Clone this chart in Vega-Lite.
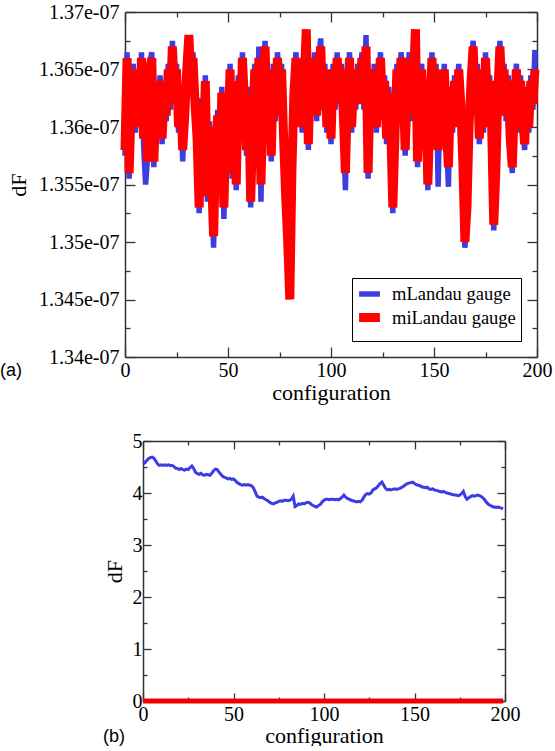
{
"$schema": "https://vega.github.io/schema/vega-lite/v6.json",
"background": "white",
"padding": {"left": 0, "top": 2, "right": 0, "bottom": 0},
"config": {
  "font": "Liberation Serif",
  "view": {"stroke": null},
  "axis": {"labelFont": "Liberation Serif", "labelFontSize": 20, "labelColor": "black", "titleFont": "Liberation Serif", "titleFontSize": 22, "titleFontWeight": "normal", "titleColor": "black", "domainColor": "#333333", "domainWidth": 1.5, "tickColor": "#333333", "tickWidth": 1.3, "grid": false, "labelOverlap": false, "labelFlush": false},
  "legend": {"labelFont": "Liberation Serif", "labelFontSize": 18.5, "labelColor": "black"},
  "title": {"font": "Liberation Sans", "fontSize": 18, "fontWeight": "normal", "color": "black"}
},
"resolve": {"scale": {"color": "independent", "strokeWidth": "independent"}},
"datasets": {"d": [
{"c":0,"m":1.3575e-7,"mi":1.358e-7,"b":4.56},
{"c":1,"m":1.3665e-7,"mi":1.366e-7,"b":4.58},
{"c":2,"m":1.3555e-7,"mi":1.356e-7,"b":4.62},
{"c":3,"m":1.3625e-7,"mi":1.362e-7,"b":4.66},
{"c":4,"m":1.3655e-7,"mi":1.365e-7,"b":4.68},
{"c":5,"m":1.3595e-7,"mi":1.360e-7,"b":4.69},
{"c":6,"m":1.3645e-7,"mi":1.364e-7,"b":4.67},
{"c":7,"m":1.3605e-7,"mi":1.361e-7,"b":4.62},
{"c":8,"m":1.3665e-7,"mi":1.366e-7,"b":4.56},
{"c":9,"m":1.3585e-7,"mi":1.359e-7,"b":4.53},
{"c":10,"m":1.355e-7,"mi":1.363e-7,"b":4.54},
{"c":11,"m":1.3575e-7,"mi":1.357e-7,"b":4.53},
{"c":12,"m":1.3655e-7,"mi":1.365e-7,"b":4.54},
{"c":13,"m":1.3665e-7,"mi":1.366e-7,"b":4.53},
{"c":14,"m":1.3565e-7,"mi":1.357e-7,"b":4.54},
{"c":15,"m":1.3625e-7,"mi":1.362e-7,"b":4.53},
{"c":16,"m":1.3595e-7,"mi":1.360e-7,"b":4.53},
{"c":17,"m":1.3645e-7,"mi":1.364e-7,"b":4.51},
{"c":18,"m":1.3585e-7,"mi":1.359e-7,"b":4.48},
{"c":19,"m":1.3635e-7,"mi":1.363e-7,"b":4.47},
{"c":20,"m":1.3605e-7,"mi":1.361e-7,"b":4.45},
{"c":21,"m":1.3655e-7,"mi":1.365e-7,"b":4.47},
{"c":22,"m":1.3615e-7,"mi":1.362e-7,"b":4.45},
{"c":23,"m":1.3675e-7,"mi":1.367e-7,"b":4.44},
{"c":24,"m":1.3625e-7,"mi":1.363e-7,"b":4.46},
{"c":25,"m":1.3655e-7,"mi":1.365e-7,"b":4.45},
{"c":26,"m":1.3595e-7,"mi":1.360e-7,"b":4.49},
{"c":27,"m":1.3635e-7,"mi":1.363e-7,"b":4.52},
{"c":28,"m":1.357e-7,"mi":1.358e-7,"b":4.47},
{"c":29,"m":1.3615e-7,"mi":1.361e-7,"b":4.40},
{"c":30,"m":1.3655e-7,"mi":1.365e-7,"b":4.37},
{"c":31,"m":1.3675e-7,"mi":1.368e-7,"b":4.36},
{"c":32,"m":1.3645e-7,"mi":1.364e-7,"b":4.38},
{"c":33,"m":1.3665e-7,"mi":1.366e-7,"b":4.35},
{"c":34,"m":1.3615e-7,"mi":1.362e-7,"b":4.34},
{"c":35,"m":1.3585e-7,"mi":1.359e-7,"b":4.36},
{"c":36,"m":1.3525e-7,"mi":1.353e-7,"b":4.35},
{"c":37,"m":1.3625e-7,"mi":1.362e-7,"b":4.34},
{"c":38,"m":1.3565e-7,"mi":1.357e-7,"b":4.38},
{"c":39,"m":1.3645e-7,"mi":1.364e-7,"b":4.43},
{"c":40,"m":1.3535e-7,"mi":1.354e-7,"b":4.46},
{"c":41,"m":1.3605e-7,"mi":1.360e-7,"b":4.45},
{"c":42,"m":1.3555e-7,"mi":1.356e-7,"b":4.40},
{"c":43,"m":1.3495e-7,"mi":1.3505e-7,"b":4.36},
{"c":44,"m":1.3575e-7,"mi":1.358e-7,"b":4.32},
{"c":45,"m":1.3615e-7,"mi":1.361e-7,"b":4.30},
{"c":46,"m":1.3545e-7,"mi":1.355e-7,"b":4.29},
{"c":47,"m":1.3635e-7,"mi":1.363e-7,"b":4.27},
{"c":48,"m":1.352e-7,"mi":1.353e-7,"b":4.28},
{"c":49,"m":1.3605e-7,"mi":1.360e-7,"b":4.26},
{"c":50,"m":1.3585e-7,"mi":1.359e-7,"b":4.27},
{"c":51,"m":1.3655e-7,"mi":1.365e-7,"b":4.24},
{"c":52,"m":1.3555e-7,"mi":1.356e-7,"b":4.20},
{"c":53,"m":1.3625e-7,"mi":1.362e-7,"b":4.18},
{"c":54,"m":1.3545e-7,"mi":1.355e-7,"b":4.16},
{"c":55,"m":1.3645e-7,"mi":1.364e-7,"b":4.15},
{"c":56,"m":1.3595e-7,"mi":1.360e-7,"b":4.16},
{"c":57,"m":1.3665e-7,"mi":1.366e-7,"b":4.15},
{"c":58,"m":1.3625e-7,"mi":1.362e-7,"b":4.16},
{"c":59,"m":1.3575e-7,"mi":1.358e-7,"b":4.15},
{"c":60,"m":1.3635e-7,"mi":1.363e-7,"b":4.14},
{"c":61,"m":1.353e-7,"mi":1.3535e-7,"b":4.10},
{"c":62,"m":1.3605e-7,"mi":1.360e-7,"b":4.02},
{"c":63,"m":1.3655e-7,"mi":1.365e-7,"b":3.94},
{"c":64,"m":1.3605e-7,"mi":1.361e-7,"b":3.92},
{"c":65,"m":1.367e-7,"mi":1.366e-7,"b":3.91},
{"c":66,"m":1.3535e-7,"mi":1.355e-7,"b":3.92},
{"c":67,"m":1.3635e-7,"mi":1.363e-7,"b":3.89},
{"c":68,"m":1.3675e-7,"mi":1.367e-7,"b":3.87},
{"c":69,"m":1.3595e-7,"mi":1.360e-7,"b":3.85},
{"c":70,"m":1.3645e-7,"mi":1.364e-7,"b":3.82},
{"c":71,"m":1.357e-7,"mi":1.3575e-7,"b":3.80},
{"c":72,"m":1.3655e-7,"mi":1.365e-7,"b":3.79},
{"c":73,"m":1.3605e-7,"mi":1.361e-7,"b":3.81},
{"c":74,"m":1.3665e-7,"mi":1.366e-7,"b":3.82},
{"c":75,"m":1.3635e-7,"mi":1.363e-7,"b":3.84},
{"c":76,"m":1.3655e-7,"mi":1.365e-7,"b":3.85},
{"c":77,"m":1.3585e-7,"mi":1.359e-7,"b":3.84},
{"c":78,"m":1.3535e-7,"mi":1.354e-7,"b":3.86},
{"c":79,"m":1.3495e-7,"mi":1.350e-7,"b":3.86},
{"c":80,"m":1.3455e-7,"mi":1.345e-7,"b":3.85},
{"c":81,"m":1.3555e-7,"mi":1.356e-7,"b":3.86},
{"c":82,"m":1.3635e-7,"mi":1.363e-7,"b":3.88},
{"c":83,"m":1.3665e-7,"mi":1.366e-7,"b":3.94},
{"c":84,"m":1.3615e-7,"mi":1.362e-7,"b":3.74},
{"c":85,"m":1.3655e-7,"mi":1.365e-7,"b":3.76},
{"c":86,"m":1.3595e-7,"mi":1.360e-7,"b":3.79},
{"c":87,"m":1.3645e-7,"mi":1.364e-7,"b":3.78},
{"c":88,"m":1.368e-7,"mi":1.3685e-7,"b":3.80},
{"c":89,"m":1.358e-7,"mi":1.3585e-7,"b":3.79},
{"c":90,"m":1.3655e-7,"mi":1.365e-7,"b":3.81},
{"c":91,"m":1.3625e-7,"mi":1.363e-7,"b":3.82},
{"c":92,"m":1.3665e-7,"mi":1.366e-7,"b":3.81},
{"c":93,"m":1.3605e-7,"mi":1.361e-7,"b":3.78},
{"c":94,"m":1.3655e-7,"mi":1.365e-7,"b":3.76},
{"c":95,"m":1.3677e-7,"mi":1.367e-7,"b":3.74},
{"c":96,"m":1.3615e-7,"mi":1.362e-7,"b":3.73},
{"c":97,"m":1.3655e-7,"mi":1.365e-7,"b":3.76},
{"c":98,"m":1.3595e-7,"mi":1.360e-7,"b":3.78},
{"c":99,"m":1.3645e-7,"mi":1.364e-7,"b":3.83},
{"c":100,"m":1.3585e-7,"mi":1.359e-7,"b":3.86},
{"c":101,"m":1.3655e-7,"mi":1.365e-7,"b":3.88},
{"c":102,"m":1.3615e-7,"mi":1.362e-7,"b":3.88},
{"c":103,"m":1.3665e-7,"mi":1.366e-7,"b":3.87},
{"c":104,"m":1.3625e-7,"mi":1.363e-7,"b":3.88},
{"c":105,"m":1.3655e-7,"mi":1.365e-7,"b":3.88},
{"c":106,"m":1.3605e-7,"mi":1.361e-7,"b":3.87},
{"c":107,"m":1.3545e-7,"mi":1.356e-7,"b":3.88},
{"c":108,"m":1.3635e-7,"mi":1.363e-7,"b":3.87},
{"c":109,"m":1.3665e-7,"mi":1.366e-7,"b":3.89},
{"c":110,"m":1.3595e-7,"mi":1.360e-7,"b":3.92},
{"c":111,"m":1.3645e-7,"mi":1.364e-7,"b":3.96},
{"c":112,"m":1.3615e-7,"mi":1.362e-7,"b":3.92},
{"c":113,"m":1.3655e-7,"mi":1.365e-7,"b":3.89},
{"c":114,"m":1.3625e-7,"mi":1.363e-7,"b":3.88},
{"c":115,"m":1.3665e-7,"mi":1.366e-7,"b":3.86},
{"c":116,"m":1.3615e-7,"mi":1.362e-7,"b":3.85},
{"c":117,"m":1.368e-7,"mi":1.367e-7,"b":3.84},
{"c":118,"m":1.3555e-7,"mi":1.356e-7,"b":3.83},
{"c":119,"m":1.3645e-7,"mi":1.364e-7,"b":3.84},
{"c":120,"m":1.3605e-7,"mi":1.361e-7,"b":3.83},
{"c":121,"m":1.3655e-7,"mi":1.365e-7,"b":3.86},
{"c":122,"m":1.3595e-7,"mi":1.360e-7,"b":3.92},
{"c":123,"m":1.3635e-7,"mi":1.363e-7,"b":3.97},
{"c":124,"m":1.3665e-7,"mi":1.366e-7,"b":3.99},
{"c":125,"m":1.3615e-7,"mi":1.362e-7,"b":3.98},
{"c":126,"m":1.3645e-7,"mi":1.364e-7,"b":4.00},
{"c":127,"m":1.3585e-7,"mi":1.359e-7,"b":4.06},
{"c":128,"m":1.3635e-7,"mi":1.363e-7,"b":4.08},
{"c":129,"m":1.3595e-7,"mi":1.360e-7,"b":4.10},
{"c":130,"m":1.3525e-7,"mi":1.353e-7,"b":4.14},
{"c":131,"m":1.3585e-7,"mi":1.359e-7,"b":4.18},
{"c":132,"m":1.3655e-7,"mi":1.365e-7,"b":4.21},
{"c":133,"m":1.3615e-7,"mi":1.362e-7,"b":4.15},
{"c":134,"m":1.3665e-7,"mi":1.366e-7,"b":4.09},
{"c":135,"m":1.3645e-7,"mi":1.364e-7,"b":4.06},
{"c":136,"m":1.3575e-7,"mi":1.358e-7,"b":4.07},
{"c":137,"m":1.3635e-7,"mi":1.363e-7,"b":4.06},
{"c":138,"m":1.3665e-7,"mi":1.366e-7,"b":4.07},
{"c":139,"m":1.3605e-7,"mi":1.361e-7,"b":4.08},
{"c":140,"m":1.3645e-7,"mi":1.364e-7,"b":4.07},
{"c":141,"m":1.3675e-7,"mi":1.3685e-7,"b":4.08},
{"c":142,"m":1.3565e-7,"mi":1.357e-7,"b":4.09},
{"c":143,"m":1.3625e-7,"mi":1.362e-7,"b":4.11},
{"c":144,"m":1.3655e-7,"mi":1.365e-7,"b":4.13},
{"c":145,"m":1.3595e-7,"mi":1.360e-7,"b":4.16},
{"c":146,"m":1.3635e-7,"mi":1.363e-7,"b":4.18},
{"c":147,"m":1.3545e-7,"mi":1.355e-7,"b":4.19},
{"c":148,"m":1.3605e-7,"mi":1.361e-7,"b":4.20},
{"c":149,"m":1.3665e-7,"mi":1.366e-7,"b":4.21},
{"c":150,"m":1.3615e-7,"mi":1.362e-7,"b":4.18},
{"c":151,"m":1.3655e-7,"mi":1.365e-7,"b":4.16},
{"c":152,"m":1.3548e-7,"mi":1.358e-7,"b":4.15},
{"c":153,"m":1.3635e-7,"mi":1.363e-7,"b":4.14},
{"c":154,"m":1.3605e-7,"mi":1.361e-7,"b":4.12},
{"c":155,"m":1.3655e-7,"mi":1.365e-7,"b":4.11},
{"c":156,"m":1.3595e-7,"mi":1.360e-7,"b":4.10},
{"c":157,"m":1.3548e-7,"mi":1.3565e-7,"b":4.11},
{"c":158,"m":1.3635e-7,"mi":1.363e-7,"b":4.08},
{"c":159,"m":1.3595e-7,"mi":1.360e-7,"b":4.07},
{"c":160,"m":1.3645e-7,"mi":1.364e-7,"b":4.08},
{"c":161,"m":1.3605e-7,"mi":1.361e-7,"b":4.06},
{"c":162,"m":1.3655e-7,"mi":1.365e-7,"b":4.05},
{"c":163,"m":1.3615e-7,"mi":1.362e-7,"b":4.04},
{"c":164,"m":1.356e-7,"mi":1.357e-7,"b":4.03},
{"c":165,"m":1.3495e-7,"mi":1.350e-7,"b":4.02},
{"c":166,"m":1.3525e-7,"mi":1.353e-7,"b":4.03},
{"c":167,"m":1.3595e-7,"mi":1.360e-7,"b":4.01},
{"c":168,"m":1.3645e-7,"mi":1.364e-7,"b":4.00},
{"c":169,"m":1.3675e-7,"mi":1.367e-7,"b":3.99},
{"c":170,"m":1.3615e-7,"mi":1.362e-7,"b":3.98},
{"c":171,"m":1.3655e-7,"mi":1.365e-7,"b":3.97},
{"c":172,"m":1.3585e-7,"mi":1.359e-7,"b":3.96},
{"c":173,"m":1.3635e-7,"mi":1.363e-7,"b":3.96},
{"c":174,"m":1.3595e-7,"mi":1.360e-7,"b":3.95},
{"c":175,"m":1.3665e-7,"mi":1.366e-7,"b":3.96},
{"c":176,"m":1.3615e-7,"mi":1.362e-7,"b":3.99},
{"c":177,"m":1.3645e-7,"mi":1.364e-7,"b":4.03},
{"c":178,"m":1.3595e-7,"mi":1.360e-7,"b":3.93},
{"c":179,"m":1.351e-7,"mi":1.3515e-7,"b":3.88},
{"c":180,"m":1.3555e-7,"mi":1.356e-7,"b":3.91},
{"c":181,"m":1.3635e-7,"mi":1.363e-7,"b":3.93},
{"c":182,"m":1.3675e-7,"mi":1.367e-7,"b":3.95},
{"c":183,"m":1.3625e-7,"mi":1.363e-7,"b":3.94},
{"c":184,"m":1.3655e-7,"mi":1.365e-7,"b":3.95},
{"c":185,"m":1.3605e-7,"mi":1.361e-7,"b":3.96},
{"c":186,"m":1.3645e-7,"mi":1.364e-7,"b":3.95},
{"c":187,"m":1.3585e-7,"mi":1.359e-7,"b":3.93},
{"c":188,"m":1.356e-7,"mi":1.3565e-7,"b":3.90},
{"c":189,"m":1.3625e-7,"mi":1.362e-7,"b":3.86},
{"c":190,"m":1.3655e-7,"mi":1.365e-7,"b":3.81},
{"c":191,"m":1.3595e-7,"mi":1.360e-7,"b":3.78},
{"c":192,"m":1.3645e-7,"mi":1.364e-7,"b":3.76},
{"c":193,"m":1.3605e-7,"mi":1.361e-7,"b":3.74},
{"c":194,"m":1.358e-7,"mi":1.3585e-7,"b":3.73},
{"c":195,"m":1.3635e-7,"mi":1.363e-7,"b":3.72},
{"c":196,"m":1.3595e-7,"mi":1.360e-7,"b":3.73},
{"c":197,"m":1.3645e-7,"mi":1.364e-7,"b":3.72},
{"c":198,"m":1.3615e-7,"mi":1.362e-7,"b":3.71},
{"c":199,"m":1.3667e-7,"mi":1.365e-7,"b":3.70}
]},
"columns": 1,
"align": "none",
"spacing": 28,
"concat": [
 {
  "width": 412, "height": 345,
  "title": {"text": "(a)", "orient": "bottom", "anchor": "start", "frame": "group", "dx": -125, "dy": -45, "align": "left"},
  "data": {"name": "d"},
  "resolve": {"scale": {"x": "independent", "y": "independent"}},
  "layer": [
   {
    "transform": [{"fold": ["m", "mi"], "as": ["s", "v"]}],
    "mark": {"type": "line", "strokeJoin": "miter", "strokeCap": "butt"},
    "encoding": {
     "x": {"field": "c", "type": "quantitative", "scale": {"domain": [0, 200], "nice": false},
       "axis": {"orient": "bottom", "title": "configuration", "values": [0,25,50,75,100,125,150,175,200], "labelExpr": "datum.value % 50 === 0 ? datum.label : ''", "tickSize": {"condition": {"test": "datum.value % 50 === 0", "value": -10}, "value": -5}, "labelPadding": 13, "titlePadding": -3}},
     "y": {"field": "v", "type": "quantitative", "scale": {"domain": [1.34e-7, 1.37e-7], "nice": false, "zero": false},
       "axis": {"orient": "left", "title": "dF", "values": [1.34e-7,1.3425e-7,1.345e-7,1.3475e-7,1.35e-7,1.3525e-7,1.355e-7,1.3575e-7,1.36e-7,1.3625e-7,1.365e-7,1.3675e-7,1.37e-7], "labelExpr": "abs(datum.value*2e9 - round(datum.value*2e9)) < 0.01 ? format(datum.value*1e7, '.4~f') + 'e-07' : ''", "tickSize": {"condition": {"test": "abs(datum.value*2e9 - round(datum.value*2e9)) < 0.01", "value": -10}, "value": -5}, "labelPadding": 16, "titlePadding": 8}},
     "color": {"field": "s", "type": "nominal", "scale": {"domain": ["m", "mi"], "range": ["#3d3de2", "#ff0000"]},
       "legend": {"orient": "bottom-right", "offset": 16, "title": null, "strokeColor": "black", "fillColor": "white", "padding": 5, "rowPadding": -9, "labelOffset": 10, "symbolType": "M-1.3,0H1.3", "symbolSize": 256, "labelExpr": "datum.value == 'm' ? 'mLandau gauge' : 'miLandau gauge'"}},
     "strokeWidth": {"field": "s", "type": "nominal", "scale": {"domain": ["m", "mi"], "range": [5.5, 9]},
       "legend": {"orient": "bottom-right", "offset": 16, "title": null, "strokeColor": "black", "fillColor": "white", "padding": 5, "rowPadding": -9, "labelOffset": 10, "symbolType": "M-1.3,0H1.3", "symbolSize": 256, "labelExpr": "datum.value == 'm' ? 'mLandau gauge' : 'miLandau gauge'"}}
    }
   },
   {
    "mark": {"type": "line", "opacity": 0},
    "encoding": {
     "x": {"field": "c", "type": "quantitative", "scale": {"domain": [0, 200], "nice": false},
       "axis": {"orient": "top", "title": null, "labels": false, "values": [0,25,50,75,100,125,150,175,200], "tickSize": {"condition": {"test": "datum.value % 50 === 0", "value": -10}, "value": -5}}},
     "y": {"field": "mi", "type": "quantitative", "scale": {"domain": [1.34e-7, 1.37e-7], "nice": false, "zero": false},
       "axis": {"orient": "right", "title": null, "labels": false, "values": [1.34e-7,1.3425e-7,1.345e-7,1.3475e-7,1.35e-7,1.3525e-7,1.355e-7,1.3575e-7,1.36e-7,1.3625e-7,1.365e-7,1.3675e-7,1.37e-7], "tickSize": {"condition": {"test": "abs(datum.value*2e9 - round(datum.value*2e9)) < 0.01", "value": -10}, "value": -5}}}
    }
   }
  ]
 },
 {
  "spacing": 0,
  "bounds": "flush",
  "hconcat": [
   {"width": 18, "height": 5, "data": {"values": []}, "mark": "point"},
   {
    "width": 362, "height": 260,
    "title": {"text": "(b)", "orient": "bottom", "anchor": "start", "frame": "group", "dx": -40, "dy": -22, "align": "left"},
    "data": {"name": "d"},
    "resolve": {"scale": {"x": "independent", "y": "independent"}},
    "layer": [
     {
      "mark": {"type": "line", "color": "#3c3ce6", "strokeWidth": 3},
      "encoding": {
       "x": {"field": "c", "type": "quantitative", "scale": {"domain": [0, 200], "nice": false},
         "axis": {"orient": "bottom", "title": "configuration", "values": [0,25,50,75,100,125,150,175,200], "labelExpr": "datum.value % 50 === 0 ? datum.label : ''", "tickSize": {"condition": {"test": "datum.value % 50 === 0", "value": -8}, "value": -4}, "labelPadding": 11, "titlePadding": -3}},
       "y": {"field": "b", "type": "quantitative", "scale": {"domain": [0, 5], "nice": false},
         "axis": {"orient": "left", "title": "dF", "values": [0,0.5,1,1.5,2,2.5,3,3.5,4,4.5,5], "labelExpr": "datum.value % 1 === 0 ? format(datum.value, 'd') : ''", "tickSize": {"condition": {"test": "datum.value % 1 === 0", "value": -8}, "value": -4}, "labelPadding": 9, "titlePadding": 6}}
      }
     },
     {
      "mark": {"type": "line", "color": "#ee0000", "strokeWidth": 5},
      "encoding": {
       "x": {"field": "c", "type": "quantitative", "scale": {"domain": [0, 200], "nice": false},
         "axis": {"orient": "top", "title": null, "labels": false, "values": [0,25,50,75,100,125,150,175,200], "tickSize": {"condition": {"test": "datum.value % 50 === 0", "value": -8}, "value": -4}}},
       "y": {"field": "mi", "type": "quantitative", "scale": {"domain": [0, 5], "nice": false},
         "axis": {"orient": "right", "title": null, "labels": false, "values": [0,0.5,1,1.5,2,2.5,3,3.5,4,4.5,5], "tickSize": {"condition": {"test": "datum.value % 1 === 0", "value": -8}, "value": -4}}}
      }
     }
    ]
   }
  ]
 }
]
}
